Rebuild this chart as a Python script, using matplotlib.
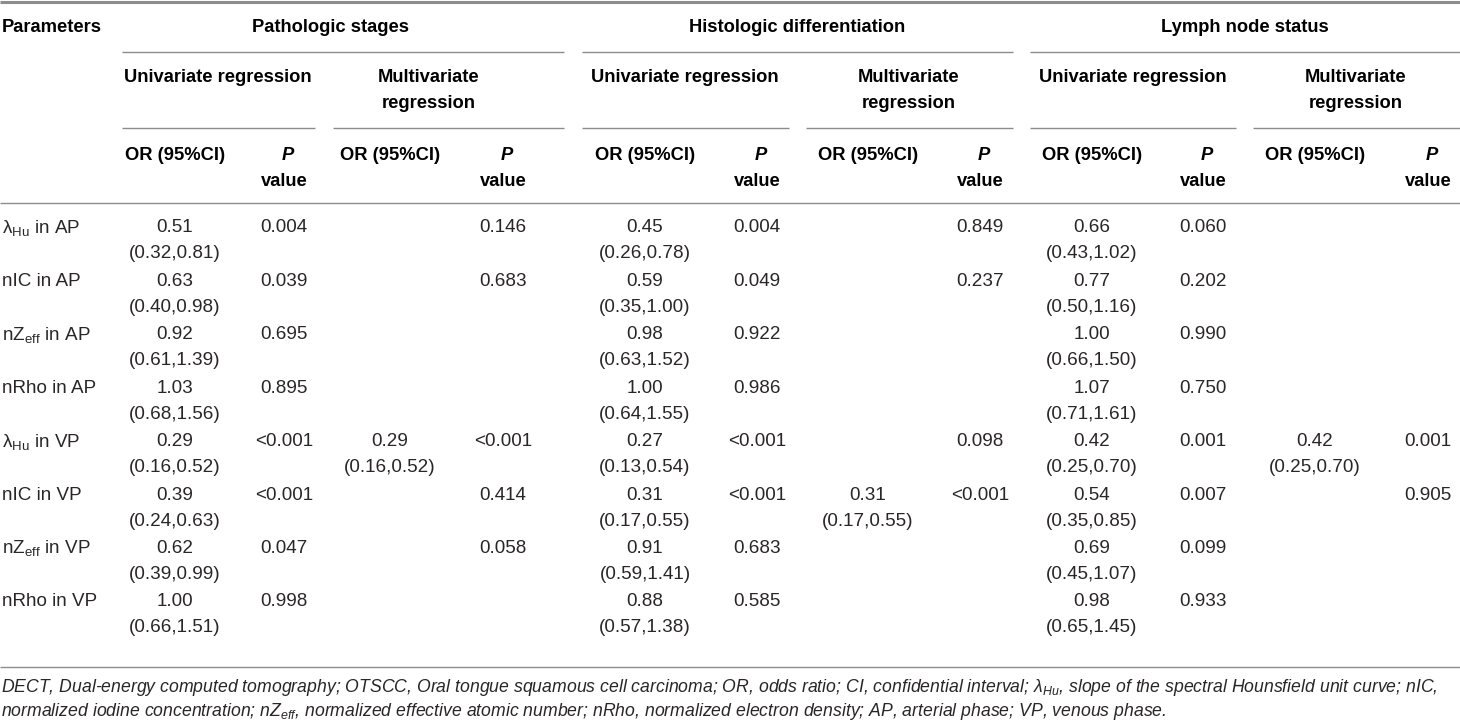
import matplotlib
matplotlib.use("Agg")
import matplotlib.pyplot as plt

# ---- table content -------------------------------------------------------
params = [r"λ$_{\mathregular{Hu}}$ in AP", "nIC in AP", r"nZ$_{\mathregular{eff}}$ in AP", "nRho in AP",
          r"λ$_{\mathregular{Hu}}$ in VP", "nIC in VP", r"nZ$_{\mathregular{eff}}$ in VP", "nRho in VP"]

groups = ["Pathologic stages", "Histologic differentiation", "Lymph node status"]

# pathologic stages
ps_uni_or = ["0.51 (0.32,0.81)", "0.63 (0.40,0.98)", "0.92 (0.61,1.39)", "1.03 (0.68,1.56)",
             "0.29 (0.16,0.52)", "0.39 (0.24,0.63)", "0.62 (0.39,0.99)", "1.00 (0.66,1.51)"]
ps_uni_p = ["0.004", "0.039", "0.695", "0.895", "<0.001", "<0.001", "0.047", "0.998"]
ps_multi_or = ["", "", "", "", "0.29 (0.16,0.52)", "", "", ""]
ps_multi_p = ["0.146", "0.683", "", "", "<0.001", "0.414", "0.058", ""]

# histologic differentiation
hd_uni_or = ["0.45 (0.26,0.78)", "0.59 (0.35,1.00)", "0.98 (0.63,1.52)", "1.00 (0.64,1.55)",
             "0.27 (0.13,0.54)", "0.31 (0.17,0.55)", "0.91 (0.59,1.41)", "0.88 (0.57,1.38)"]
hd_uni_p = ["0.004", "0.049", "0.922", "0.986", "<0.001", "<0.001", "0.683", "0.585"]
hd_multi_or = ["", "", "", "", "", "0.31 (0.17,0.55)", "", ""]
hd_multi_p = ["0.849", "0.237", "", "", "0.098", "<0.001", "", ""]

# lymph node status
ln_uni_or = ["0.66 (0.43,1.02)", "0.77 (0.50,1.16)", "1.00 (0.66,1.50)", "1.07 (0.71,1.61)",
             "0.42 (0.25,0.70)", "0.54 (0.35,0.85)", "0.69 (0.45,1.07)", "0.98 (0.65,1.45)"]
ln_uni_p = ["0.060", "0.202", "0.990", "0.750", "0.001", "0.007", "0.099", "0.933"]
ln_multi_or = ["", "", "", "", "0.42 (0.25,0.70)", "", "", ""]
ln_multi_p = ["", "", "", "", "0.001", "0.905", "", ""]

footnote = [
    r"DECT, Dual-energy computed tomography; OTSCC, Oral tongue squamous cell carcinoma; OR, odds ratio; "
    r"CI, confidential interval; λ$_{\mathit{Hu}}$, slope of the spectral Hounsfield unit curve; nIC,",
    r"normalized iodine concentration; nZ$_{\mathit{eff}}$, normalized effective atomic number; "
    r"nRho, normalized electron density; AP, arterial phase; VP, venous phase.",
]

# ---- layout --------------------------------------------------------------
plt.rcParams["font.family"] = ["Liberation Sans", "DejaVu Sans"]
plt.rcParams["mathtext.fontset"] = "custom"
plt.rcParams["mathtext.rm"] = "Liberation Sans"
plt.rcParams["mathtext.it"] = "Liberation Sans:italic"

W, H = 1460, 723
fig = plt.figure(figsize=(W / 100, H / 100), dpi=100)
ax = fig.add_axes([0, 0, 1, 1])
ax.set_xlim(0, W)
ax.set_ylim(H, 0)
ax.axis("off")

FS = 13.2
FS_BODY = 13.6
BODY = "#2a2627"
RULE = "#8c8c8c"

columns = [
    (ps_uni_or, ps_uni_p, ps_multi_or, ps_multi_p),
    (hd_uni_or, hd_uni_p, hd_multi_or, hd_multi_p),
    (ln_uni_or, ln_uni_p, ln_multi_or, ln_multi_p),
]
group_x = [330, 797, 1245]
group_span = [(122, 564), (582, 1013), (1030, 1460)]
sub_spans = [[(122, 315), (333, 564)], [(582, 789), (806, 1013)], [(1030, 1236), (1253, 1460)]]
uni_x = [218, 685, 1133]
multi_x = [429, 909, 1356]
col_x = [[175, 284, 390, 503], [645, 757, 868, 980], [1092, 1203, 1315, 1428]]

def hline(y, x0=0, x1=W, lw=1.0):
    ax.plot([x0, x1], [y, y], color=RULE, lw=lw, solid_capstyle="butt")

def txt(x, y, s, ha="center", **kw):
    kw.setdefault("color", BODY)
    kw.setdefault("fontsize", FS)
    ax.text(x, y, s, ha=ha, va="center", **kw)

# rules
hline(1.5, lw=2.2)
for x0, x1 in group_span:
    hline(52, x0, x1)
for spans in sub_spans:
    for x0, x1 in spans:
        hline(128, x0, x1)
hline(203)
hline(667)

# header
txt(2, 28, "Parameters", ha="left", fontweight="bold", color="black")
for g, gx in enumerate(group_x):
    txt(gx, 28, groups[g], fontweight="bold", color="black")
    txt(uni_x[g], 78, "Univariate regression", fontweight="bold", color="black")
    txt(multi_x[g], 78, "Multivariate", fontweight="bold", color="black")
    txt(multi_x[g], 104, "regression", fontweight="bold", color="black")
    for k, cx in enumerate(col_x[g]):
        if k % 2 == 0:
            txt(cx, 155, "OR (95%CI)", fontweight="bold", color="black")
        else:
            txt(cx + 4, 155, "P", fontweight="bold", fontstyle="italic", color="black")
            txt(cx, 181, "value", fontweight="bold", color="black")

# body
row0, pitch, gap = 228, 53.4, 26
for i, p in enumerate(params):
    y = row0 + i * pitch
    txt(2, y, p, ha="left", fontsize=FS_BODY)
    for g, cols in enumerate(columns):
        for k, col in enumerate(cols):
            val = col[i]
            if not val:
                continue
            cx = col_x[g][k]
            if k % 2 == 0:
                est, ci = val.split(" ")
                txt(cx, y, est, fontsize=FS_BODY)
                txt(cx, y + gap, ci, fontsize=FS_BODY)
            else:
                txt(cx, y, val, fontsize=FS_BODY)

# footnote
for j, line in enumerate(footnote):
    txt(1, 687 + j * 24, line, ha="left", fontstyle="italic", fontsize=12.7)

fig.savefig("out.png", dpi=100)
